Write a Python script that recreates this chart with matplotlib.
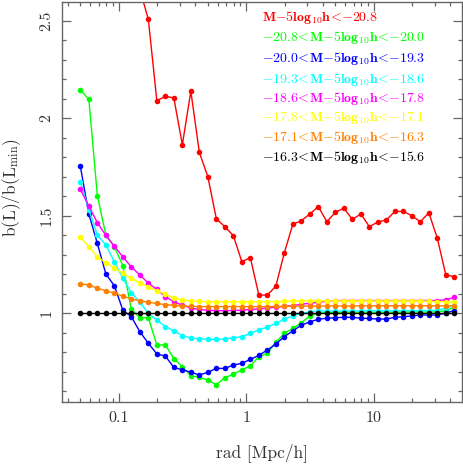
import numpy as np
import matplotlib
matplotlib.use('Agg')
import matplotlib.pyplot as plt
from matplotlib.ticker import MultipleLocator, FixedLocator, FuncFormatter, LogLocator, NullFormatter

plt.rcParams['mathtext.fontset'] = 'cm'
plt.rcParams['font.family'] = 'cmr10'
plt.rcParams['axes.formatter.use_mathtext'] = True
plt.rcParams['axes.unicode_minus'] = False

# radial bins (log spaced, 15 per decade, starting at 0.05 Mpc/h)
rad = 0.05 * 10 ** (np.arange(45) / 15.0)

labels = [
    r'$\mathbf{M{-}5log_{10}h\!<\!{-}20.8}$',
    r'$\mathbf{{-}20.8\!<\!M{-}5log_{10}h\!<\!{-}20.0}$',
    r'$\mathbf{{-}20.0\!<\!M{-}5log_{10}h\!<\!{-}19.3}$',
    r'$\mathbf{{-}19.3\!<\!M{-}5log_{10}h\!<\!{-}18.6}$',
    r'$\mathbf{{-}18.6\!<\!M{-}5log_{10}h\!<\!{-}17.8}$',
    r'$\mathbf{{-}17.8\!<\!M{-}5log_{10}h\!<\!{-}17.1}$',
    r'$\mathbf{{-}17.1\!<\!M{-}5log_{10}h\!<\!{-}16.3}$',
    r'$\mathbf{{-}16.3\!<\!M{-}5log_{10}h\!<\!{-}15.6}$',
]
colors = ['#ff0000', '#00ff00', '#0000ff', '#00ffff', '#ff00ff', '#ffff00', '#ff8000', '#000000']

red_start = 7
red = [2.66, 2.506, 2.089, 2.111, 2.103, 1.863, 2.137, 1.824, 1.699, 1.483,
       1.443, 1.397, 1.263, 1.284, 1.092, 1.092, 1.138, 1.309, 1.455, 1.473,
       1.508, 1.546, 1.468, 1.516, 1.538, 1.480, 1.508, 1.443, 1.467, 1.477,
       1.521, 1.521, 1.499, 1.468, 1.514, 1.383, 1.195, 1.186]

green = [2.144, 2.096, 1.602, 1.400, 1.340, 1.243, 1.020, 0.975, 0.976, 0.836,
         0.836, 0.766, 0.725, 0.677, 0.670, 0.656, 0.632, 0.668, 0.686, 0.709,
         0.728, 0.776, 0.793, 0.850, 0.896, 0.921, 0.950, 0.985, 0.998, 1.003,
         1.004, 1.004, 1.004, 1.004, 1.004, 1.004, 1.004, 1.004, 1.005, 1.005,
         1.005, 1.005, 1.006, 1.012, 1.030]

blue = [1.752, 1.507, 1.357, 1.200, 1.140, 1.015, 0.981, 0.904, 0.845, 0.790,
        0.779, 0.721, 0.708, 0.697, 0.682, 0.696, 0.716, 0.716, 0.733, 0.742,
        0.762, 0.783, 0.810, 0.841, 0.879, 0.908, 0.938, 0.954, 0.968, 0.973,
        0.976, 0.978, 0.978, 0.973, 0.972, 0.969, 0.969, 0.978, 0.981, 0.985,
        0.990, 0.990, 0.990, 1.000, 1.012]

cyan = [1.673, 1.530, 1.400, 1.349, 1.263, 1.178, 1.105, 1.055, 0.998, 0.964,
        0.930, 0.908, 0.884, 0.872, 0.868, 0.865, 0.865, 0.867, 0.872, 0.879,
        0.896, 0.913, 0.928, 0.947, 0.969, 0.985, 0.998, 1.005, 1.010, 1.010,
        1.010, 1.010, 1.010, 1.010, 1.011, 1.011, 1.011, 1.011, 1.012, 1.012,
        1.012, 1.012, 1.014, 1.025, 1.040]

magenta = [1.634, 1.549, 1.463, 1.398, 1.342, 1.288, 1.236, 1.195, 1.153, 1.121,
           1.084, 1.058, 1.040, 1.026, 1.018, 1.014, 1.012, 1.012, 1.013, 1.015,
           1.018, 1.022, 1.026, 1.030, 1.034, 1.038, 1.045, 1.050, 1.055, 1.060,
           1.064, 1.064, 1.064, 1.064, 1.064, 1.064, 1.064, 1.064, 1.064, 1.064,
           1.064, 1.064, 1.064, 1.068, 1.080]

yellow = [1.388, 1.340, 1.288, 1.258, 1.232, 1.203, 1.177, 1.155, 1.135, 1.114,
          1.097, 1.075, 1.068, 1.062, 1.060, 1.058, 1.058, 1.058, 1.058, 1.058,
          1.058, 1.058, 1.058, 1.059, 1.060, 1.062, 1.062, 1.062, 1.062, 1.062,
          1.062, 1.062, 1.062, 1.062, 1.062, 1.062, 1.062, 1.062, 1.062, 1.062,
          1.062, 1.060, 1.058, 1.058, 1.055]

orange = [1.149, 1.144, 1.127, 1.114, 1.101, 1.087, 1.072, 1.063, 1.055, 1.049,
          1.043, 1.039, 1.036, 1.034, 1.033, 1.033, 1.033, 1.033, 1.033, 1.033,
          1.033, 1.033, 1.033, 1.034, 1.034, 1.035, 1.035, 1.036, 1.036, 1.036,
          1.036, 1.036, 1.036, 1.037, 1.037, 1.037, 1.037, 1.037, 1.037, 1.037,
          1.037, 1.037, 1.037, 1.037, 1.038]

black = [1.0] * 45

series = [(rad[red_start:], red), (rad, green), (rad, blue), (rad, cyan),
          (rad, magenta), (rad, yellow), (rad, orange), (rad, black)]

W, H = 463, 473
fig = plt.figure(figsize=(W / 100, H / 100), dpi=100)
ax_l, ax_r, ax_t, ax_b = 62, 461.7, 2, 402
ax = fig.add_axes([ax_l / W, 1 - ax_b / H, (ax_r - ax_l) / W, (ax_b - ax_t) / H])

for (x, y), c in zip(series, colors):
    ax.plot(x, y, '-o', color=c, lw=1.0, ms=4.0, mew=0)

ax.set_xscale('log')
ax.set_xlim(0.0359, 48.98)
ax.set_ylim(0.5436, 2.595)

ax.xaxis.set_major_locator(FixedLocator([0.1, 1, 10]))
ax.xaxis.set_major_formatter(FuncFormatter(lambda v, p: '%g' % v))
ax.xaxis.set_minor_locator(LogLocator(base=10, subs=np.arange(2, 10)))
ax.xaxis.set_minor_formatter(NullFormatter())
ax.yaxis.set_major_locator(MultipleLocator(0.5))
ax.yaxis.set_minor_locator(MultipleLocator(0.1))
ax.yaxis.set_major_formatter(FuncFormatter(lambda v, p: '%g' % v))

spine_c = '#666666'
txt_c = '#333333'
for s in ax.spines.values():
    s.set_color(spine_c)
    s.set_linewidth(1.0)
ax.tick_params(which='both', direction='in', top=True, right=True, color=spine_c,
               width=0.9, labelcolor=txt_c, labelsize=11.5)
ax.tick_params(which='major', length=6.5)
ax.tick_params(which='minor', length=3.2)
ax.tick_params(axis='x', pad=7)
ax.tick_params(axis='y', labelrotation=90, pad=6)
for lab in ax.get_yticklabels():
    lab.set_va('center')

fig.text(262 / W, 1 - 453 / H, 'rad [Mpc/h]', ha='center', va='center',
         fontsize=12.5, color=txt_c)
fig.text(12 / W, 1 - 187 / H, r'b(L)/b(L$_{\rm min}$)', ha='center', va='center',
         rotation=90, fontsize=12.5, color=txt_c)

leg_y = [17, 38, 58.5, 79, 98.5, 118, 138, 158]
for lab, c, yy in zip(labels, colors, leg_y):
    fig.text(262 / W, 1 - yy / H, lab, color=c, fontsize=10, ha='left', va='center')

fig.savefig('out.png', dpi=100)
